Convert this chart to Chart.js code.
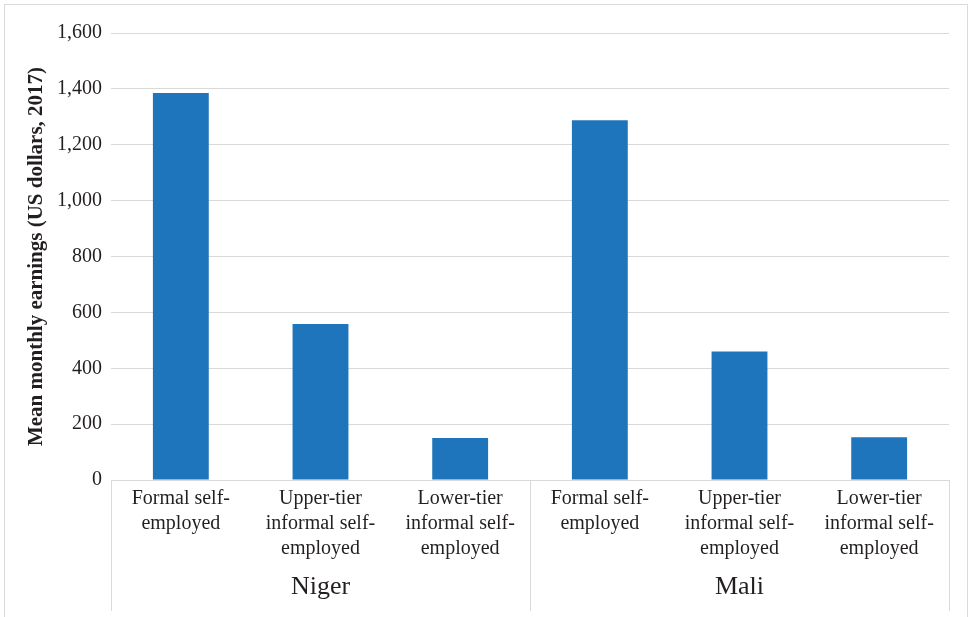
<!DOCTYPE html>
<html>
<head>
<meta charset="utf-8">
<script src="https://cdn.jsdelivr.net/npm/chart.js@4/dist/chart.umd.min.js"></script>
<style>
  html, body { margin: 0; padding: 0; background: #fff; }
  #wrap { position: relative; width: 977px; height: 617px; overflow: hidden; }
  #frame { position: absolute; left: 4px; top: 4px; width: 964px; height: 640px; border: 1px solid #d9d9d9; box-sizing: border-box; }
  #c { position: absolute; left: 0; top: 0; }
</style>
</head>
<body>
<div id="wrap">
  <div id="frame"></div>
  <canvas id="c" width="977" height="617"></canvas>
</div>
<script>
const categories = [
  ["Formal self-", "employed"],
  ["Upper-tier", "informal self-", "employed"],
  ["Lower-tier", "informal self-", "employed"],
  ["Formal self-", "employed"],
  ["Upper-tier", "informal self-", "employed"],
  ["Lower-tier", "informal self-", "employed"]
];
const groups = ["Niger", "Mali"];
const earnings = [1385, 558, 150, 1288, 460, 153];
const yTitle = "Mean monthly earnings (US dollars, 2017)";

const FONT = "'Liberation Serif', 'DejaVu Serif', serif";
const TEXT = "#231f20";
const GRID = "#d9d9d9";

const separators = {
  id: 'separators',
  afterDraw(chart) {
    const x = chart.scales.x;
    const ctx = chart.ctx;
    const top = chart.chartArea.bottom;
    const bottom = chart.height - 6;
    const mid = (x.getPixelForValue(2) + x.getPixelForValue(3)) / 2;
    ctx.save();
    ctx.strokeStyle = GRID;
    ctx.lineWidth = 1;
    [x.left, mid, x.right].forEach(px => {
      const p = Math.round(px) + 0.5;
      ctx.beginPath();
      ctx.moveTo(p, top);
      ctx.lineTo(p, bottom);
      ctx.stroke();
    });
    ctx.restore();
  }
};

new Chart(document.getElementById('c'), {
  type: 'bar',
  data: {
    labels: categories,
    datasets: [{
      data: earnings,
      backgroundColor: '#1f75bc',
      borderWidth: 0,
      barPercentage: 0.8,
      categoryPercentage: 0.5
    }]
  },
  options: {
    responsive: false,
    animation: false,
    plugins: { legend: { display: false }, tooltip: { enabled: false } },
    layout: { padding: { left: 21, right: 28, top: 33, bottom: 0 } },
    scales: {
      y: {
        min: 0, max: 1600,
        ticks: {
          stepSize: 200,
          padding: 9,
          color: TEXT,
          font: { family: FONT, size: 20 },
          callback: v => v.toLocaleString('en-US')
        },
        grid: { color: GRID, drawTicks: false, lineWidth: 1 },
        border: { display: false },
        title: {
          display: true,
          text: yTitle,
          color: TEXT,
          padding: { top: 3, bottom: 4 },
          font: { family: FONT, size: 21, weight: 'bold' }
        },
        afterFit(s) { s.width = 90; }
      },
      x: {
        offset: true,
        ticks: {
          padding: 6,
          color: TEXT,
          maxRotation: 0,
          autoSkip: false,
          font: { family: FONT, size: 20, lineHeight: 1.25 }
        },
        grid: { display: false, drawTicks: false },
        border: { display: false },
        afterFit(s) { s.height = 88; }
      },
      x2: {
        type: 'category',
        labels: groups,
        position: 'bottom',
        offset: true,
        ticks: {
          padding: 4,
          color: TEXT,
          maxRotation: 0,
          autoSkip: false,
          font: { family: FONT, size: 26, lineHeight: 1.2 }
        },
        grid: { display: false, drawTicks: false },
        border: { display: false },
        afterFit(s) { s.height = 49; }
      }
    }
  },
  plugins: [separators]
});
</script>
</body>
</html>
